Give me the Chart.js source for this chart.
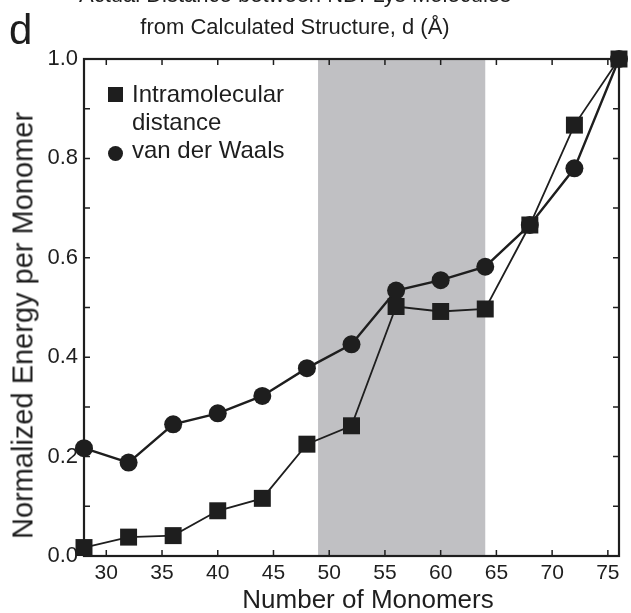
<!DOCTYPE html>
<html>
<head>
<meta charset="utf-8">
<script src="https://cdn.jsdelivr.net/npm/chart.js@4/dist/chart.umd.min.js"></script>
<style>
    html, body { margin: 0; padding: 0; background: #fff; overflow: hidden; }
    #wrap { position: relative; width: 631px; height: 613px; font-family: "Liberation Sans", Arial, sans-serif; color: #1e1e1e; }
    #wrap div { position: absolute; white-space: nowrap; }
    .title { left: 0; width: 590px; text-align: center; font-size: 22px; line-height: 22px; }
    .legend { left: 132px; font-size: 24px; line-height: 28px; }
    .mark { background: #1e1e1e; width: 15px; height: 15px; }
</style>
</head>
<body>
<div id="wrap">
    <canvas id="chart" width="631" height="613"></canvas>
    <div class="title" style="top:-16px">Actual Distance between NDI-Lys Molecules</div>
    <div class="title" style="top:16px">from Calculated Structure, d (Å)</div>
    <div style="left:9px;top:9px;font-size:42px;line-height:42px">d</div>
    <div class="mark" style="left:108px;top:87px"></div>
    <div class="legend" style="top:80px">Intramolecular</div>
    <div class="legend" style="top:108px">distance</div>
    <div class="mark" style="left:108px;top:146px;border-radius:50%"></div>
    <div class="legend" style="top:136px">van der Waals</div>
    <div style="left:168px;top:586px;width:400px;text-align:center;font-size:26px;line-height:26px">Number of Monomers</div>
    <div style="left:-227px;top:311px;width:500px;height:29px;text-align:center;font-size:29px;line-height:29px;transform:rotate(-90deg)">Normalized Energy per Monomer</div>
</div>
<script>
const monomers = [28, 32, 36, 40, 44, 48, 52, 56, 60, 64, 68, 72, 76];
const intramolecular = [0.017, 0.038, 0.041, 0.091, 0.116, 0.225, 0.262, 0.502, 0.492, 0.497, 0.666, 0.867, 1.0];
const vanDerWaals = [0.217, 0.188, 0.265, 0.287, 0.322, 0.378, 0.426, 0.534, 0.555, 0.582, 0.666, 0.78, 1.0];
const xTicks = [30, 35, 40, 45, 50, 55, 60, 65, 70, 75];
const yTicks = [0, 0.1, 0.2, 0.3, 0.4, 0.5, 0.6, 0.7, 0.8, 0.9, 1.0];
const shadedRange = [49, 64];

const ink = "#1e1e1e";
const font = "'Liberation Sans', Arial, sans-serif";

// grey band, inward ticks on all four sides, and the box
const framePlugin = {
    id: "frame",
    beforeDatasetsDraw(chart) {
        const { ctx, chartArea: a, scales: { x, y } } = chart;
        ctx.save();
        ctx.fillStyle = "#c0c0c3";
        const x0 = x.getPixelForValue(shadedRange[0]), x1 = x.getPixelForValue(shadedRange[1]);
        ctx.fillRect(x0, a.top, x1 - x0, a.bottom - a.top);
        ctx.strokeStyle = ink;
        ctx.lineWidth = 1.5;
        ctx.beginPath();
        x.ticks.forEach((t) => {
            const px = x.getPixelForValue(t.value);
            ctx.moveTo(px, a.bottom); ctx.lineTo(px, a.bottom - 6);
            ctx.moveTo(px, a.top); ctx.lineTo(px, a.top + 6);
        });
        y.ticks.forEach((t) => {
            const py = y.getPixelForValue(t.value);
            ctx.moveTo(a.left, py); ctx.lineTo(a.left + 6, py);
            ctx.moveTo(a.right, py); ctx.lineTo(a.right - 6, py);
        });
        ctx.stroke();
        ctx.lineWidth = 2.2;
        ctx.strokeRect(a.left, a.top, a.right - a.left, a.bottom - a.top);
        ctx.restore();
    }
};

new Chart(document.getElementById("chart"), {
    type: "line",
    data: {
        datasets: [
            { label: "Intramolecular distance", data: monomers.map((m, i) => ({ x: m, y: intramolecular[i] })), borderColor: ink, backgroundColor: ink, borderWidth: 1.8, pointStyle: "rect", pointRadius: 12, pointBorderWidth: 0, clip: false },
            { label: "van der Waals", data: monomers.map((m, i) => ({ x: m, y: vanDerWaals[i] })), borderColor: ink, backgroundColor: ink, borderWidth: 2.4, pointStyle: "circle", pointRadius: 9, pointBorderWidth: 0, clip: false }
        ]
    },
    options: {
        responsive: false,
        animation: false,
        layout: { padding: { top: 59, right: 5, left: 0, bottom: 0 } },
        plugins: { legend: { display: false }, tooltip: { enabled: false } },
        scales: {
            x: {
                type: "linear", min: 28, max: 76,
                afterBuildTicks: (axis) => { axis.ticks = xTicks.map((v) => ({ value: v })); },
                afterFit: (axis) => { axis.height = 57; },
                grid: { display: false, drawTicks: false },
                border: { display: false },
                ticks: { color: ink, padding: 5, font: { family: font, size: 21 }, callback: (v) => String(v) }
            },
            y: {
                min: 0, max: 1,
                afterBuildTicks: (axis) => { axis.ticks = yTicks.map((v) => ({ value: v })); },
                afterFit: (axis) => { axis.width = 84; },
                grid: { display: false, drawTicks: false },
                border: { display: false },
                ticks: { color: ink, padding: 6, font: { family: font, size: 22 }, callback: (v, i) => (i % 2 === 0 ? v.toFixed(1) : "") }
            }
        }
    },
    plugins: [framePlugin]
});
</script>
</body>
</html>
